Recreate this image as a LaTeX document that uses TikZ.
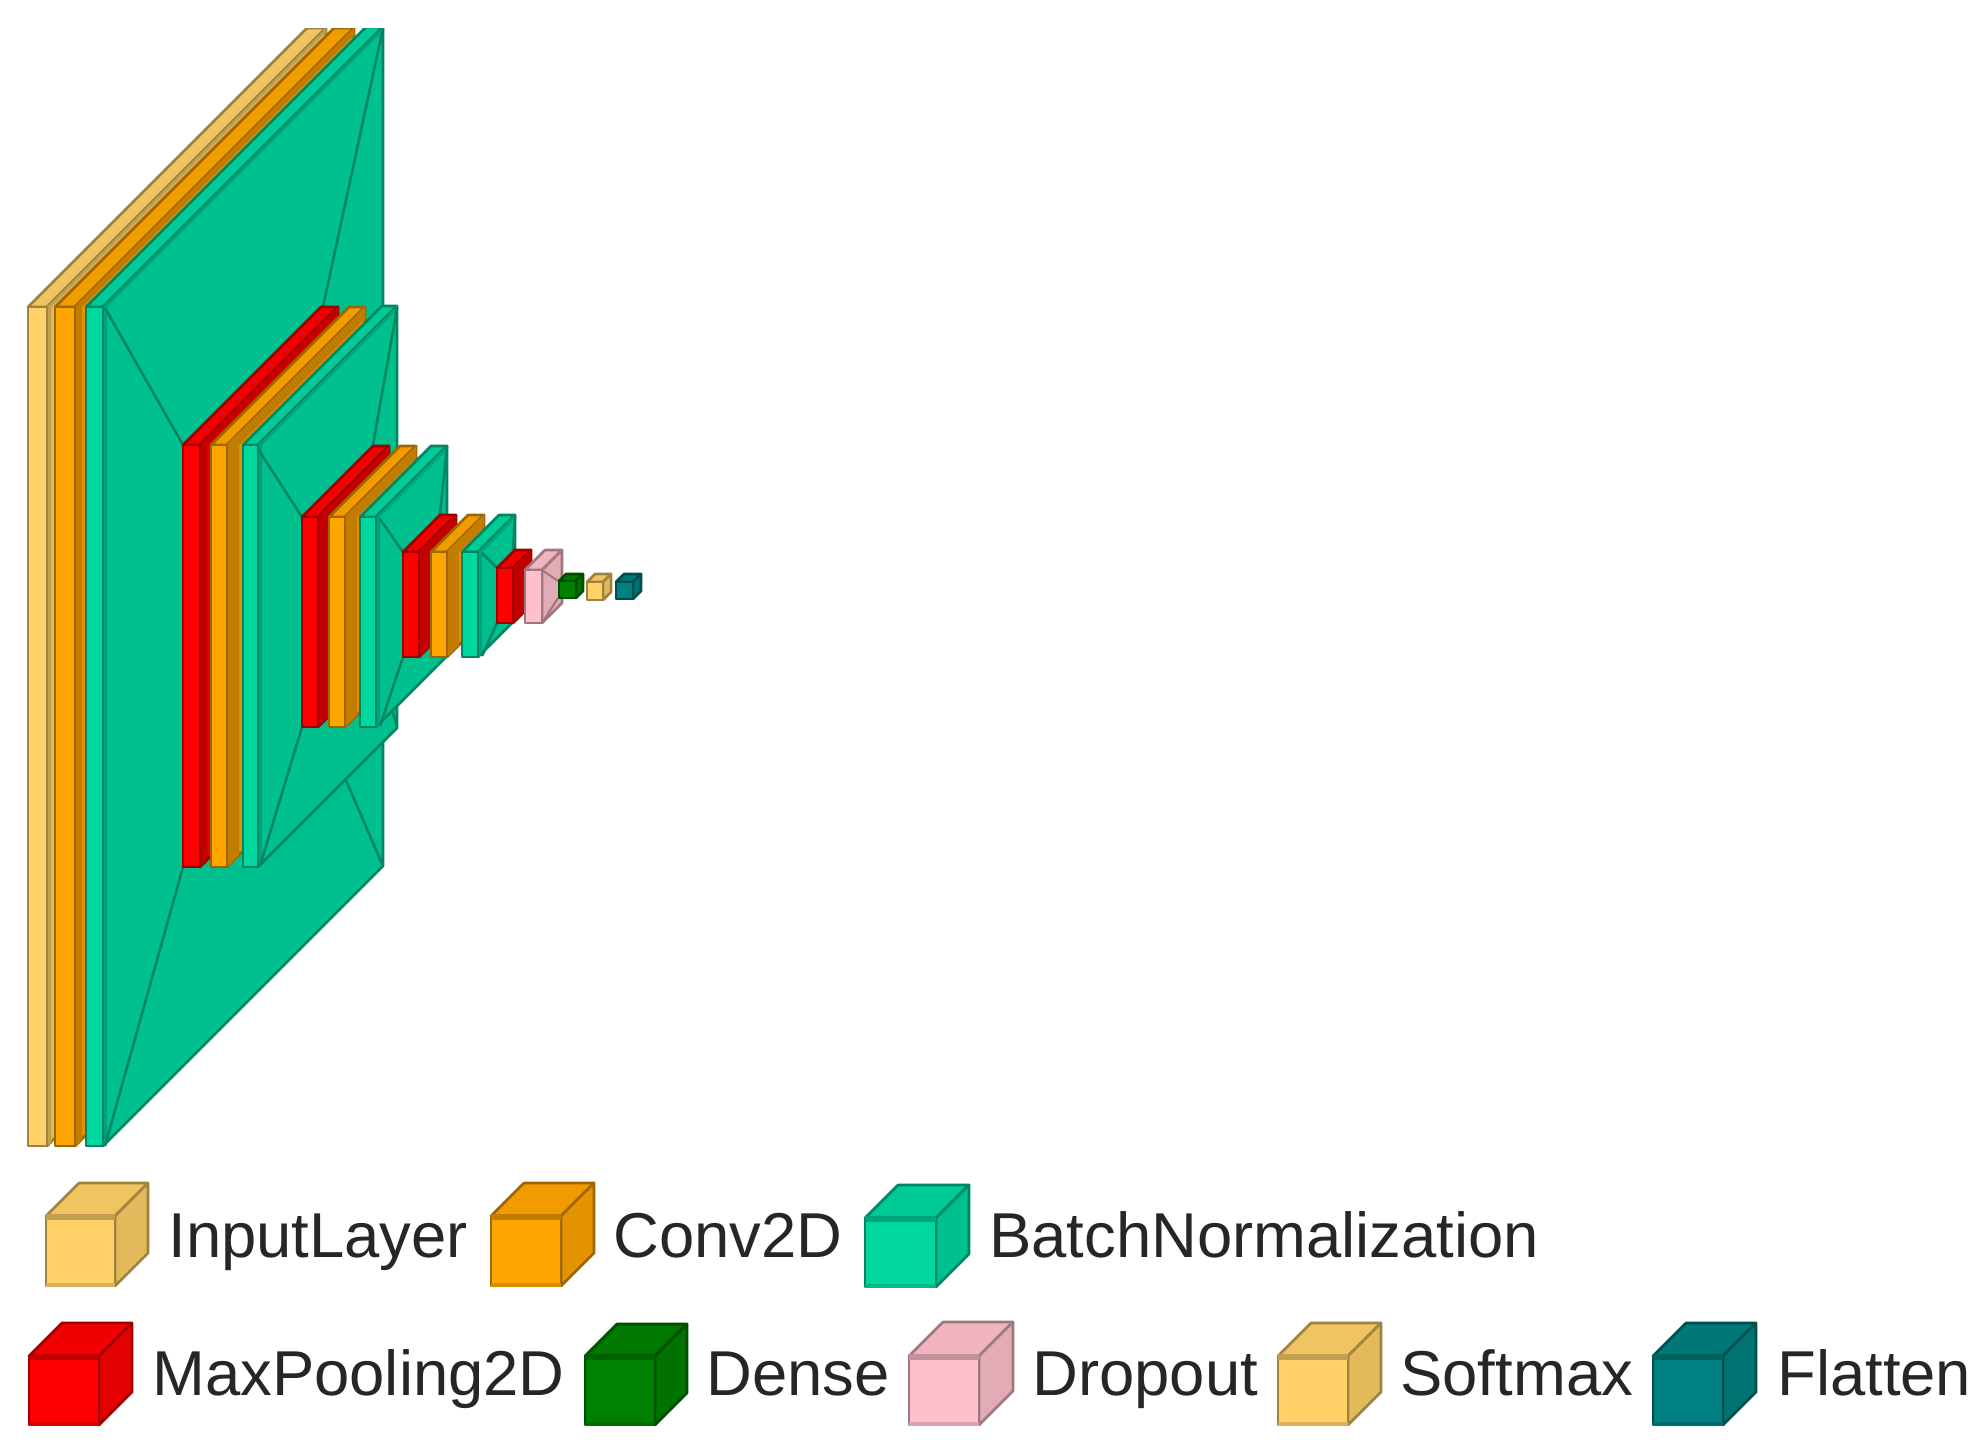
\documentclass[tikz,border=0pt]{standalone}
\usepackage{fontspec}
\setmainfont{Liberation Sans}
\definecolor{inputcol}{HTML}{FFD166}
\definecolor{convcol}{HTML}{FFA500}
\definecolor{batchcol}{HTML}{00D8A0}
\definecolor{poolcol}{HTML}{FF0000}
\definecolor{densecol}{HTML}{008000}
\definecolor{dropcol}{HTML}{FFC0CB}
\definecolor{softcol}{HTML}{FFD166}
\definecolor{flatcol}{HTML}{008080}
\definecolor{labelcol}{HTML}{262626}
\tikzset{
    frontface/.style={fill=#1,draw=#1!62!black,line width=1.3pt,line join=round},
    sideface/.style={fill=#1!89!black,draw=#1!62!black,line width=1.3pt,line join=round},
    topface/.style={fill=#1!94!black,draw=#1!62!black,line width=1.3pt,line join=round},
    rimface/.style={fill=#1!76!black},
    funnel/.style={draw=batchcol!62!black,line width=1.3pt},
    legendlabel/.style={anchor=base west,inner sep=0pt,text=labelcol,font=\fontsize{31.7}{36}\selectfont}
}
\newcommand{\layerbox}[7]{
    \path[topface=#1] (#2,#4) -- (#3,#4) -- (#3+#6,#4-#6) -- (#2+#6,#4-#6) -- cycle;
    \path[sideface=#1] (#3,#4) -- (#3+#6,#4-#6) -- (#3+#6,#5-#6) -- (#3,#5) -- cycle;
    \fill[rimface=#1] (#3,#4) -- (#3+#6,#4-#6) -- (#3+#6,#4-#6+#7) -- (#3+#7,#4) -- cycle;
    \fill[rimface=#1] (#3,#4) -- (#3+#7,#4-#7) -- (#3+#7,#5-#7) -- (#3,#5) -- cycle;
    \path[frontface=#1] (#2,#4) rectangle (#3,#5);
}
\newcommand{\legendcube}[6]{
    \layerbox{#1}{#2}{#3}{#4}{#5}{#6}{0}
    \fill[rimface=#1] (#2,#4-2) rectangle (#3,#4+4);
    \fill[#1!85!black] (#2,#5-3) rectangle (#3,#5+1);
}
\begin{document}
\begin{tikzpicture}[x=0.5pt,y=-0.5pt]
    \useasboundingbox (0,0) rectangle (1986,1448);
    \fill[white] (0,0) rectangle (1986,1448);
    \begin{scope}
        \clip (0,28) rectangle (1986,1147);
        \layerbox{inputcol}{28}{47}{307}{1146}{279}{4}
        \layerbox{convcol}{55}{75}{307}{1146}{279}{7}
        \layerbox{batchcol}{86}{103}{307}{1146}{280}{4}
        \draw[funnel] (105,308) -- (183,445);
        \draw[funnel] (105,1146) -- (183,867);
        \draw[funnel] (383,28) -- (323,307);
        \draw[funnel] (383,866) -- (345,778);
        \layerbox{poolcol}{183}{200}{445}{867}{138}{7}
        \layerbox{convcol}{211}{227}{445}{867}{138}{12}
        \layerbox{batchcol}{243}{258}{445}{867}{139}{4}
        \draw[funnel] (258,449) -- (302,517);
        \draw[funnel] (260,866) -- (302,727);
        \draw[funnel] (397,308) -- (373,445);
        \draw[funnel] (397,726) -- (374,655);
        \layerbox{poolcol}{302}{318}{517}{727}{71}{11}
        \layerbox{convcol}{329}{345}{517}{727}{71}{12}
        \layerbox{batchcol}{360}{376}{517}{727}{71}{4}
        \draw[funnel] (380,519) -- (403,552);
        \draw[funnel] (380,726) -- (403,657);
        \draw[funnel] (447,446) -- (440,515);
        \layerbox{poolcol}{403}{419}{552}{657}{37}{12}
        \layerbox{convcol}{431}{447}{552}{657}{37}{12}
        \layerbox{batchcol}{462}{478}{552}{657}{37}{4}
        \draw[funnel] (482,553) -- (497,568);
        \draw[funnel] (482,656) -- (497,623);
        \draw[funnel] (515,516) -- (513,550);
        \layerbox{poolcol}{497}{513}{568}{623}{18}{12}
        \layerbox{dropcol}{525}{542}{570}{623}{20}{0}
        \draw[dropcol!62!black,line width=1pt] (542,570) -- (558,581);
        \draw[dropcol!62!black,line width=1pt] (542,623) -- (558,598);
        \layerbox{densecol}{559}{576}{581}{598}{7}{0}
        \layerbox{softcol}{587}{603}{582}{600}{8}{0}
        \layerbox{flatcol}{616}{633}{582}{599}{8}{0}
    \end{scope}
    \legendcube{inputcol}{46}{115}{1216}{1286}{33}
    \node[legendlabel] (inputlabel) at (168,1257) {InputLayer};
    \legendcube{convcol}{491}{561}{1216}{1286}{33}
    \node[legendlabel] (convlabel) at (613,1257) {Conv2D};
    \legendcube{batchcol}{865}{936}{1218}{1287}{33}
    \node[legendlabel] (batchlabel) at (989,1257) {BatchNormalization};
    \legendcube{poolcol}{29}{99}{1356}{1425}{33}
    \node[legendlabel] (poollabel) at (152,1395) {MaxPooling2D};
    \legendcube{densecol}{585}{655}{1356}{1425}{32}
    \node[legendlabel] (denselabel) at (706,1395) {Dense};
    \legendcube{dropcol}{909}{979}{1356}{1425}{34}
    \node[legendlabel] (droplabel) at (1032,1395) {Dropout};
    \legendcube{softcol}{1278}{1348}{1356}{1425}{33}
    \node[legendlabel] (softlabel) at (1400,1395) {Softmax};
    \legendcube{flatcol}{1653}{1723}{1356}{1425}{33}
    \node[legendlabel] (flatlabel) at (1777,1395) {Flatten};
\end{tikzpicture}
\end{document}
